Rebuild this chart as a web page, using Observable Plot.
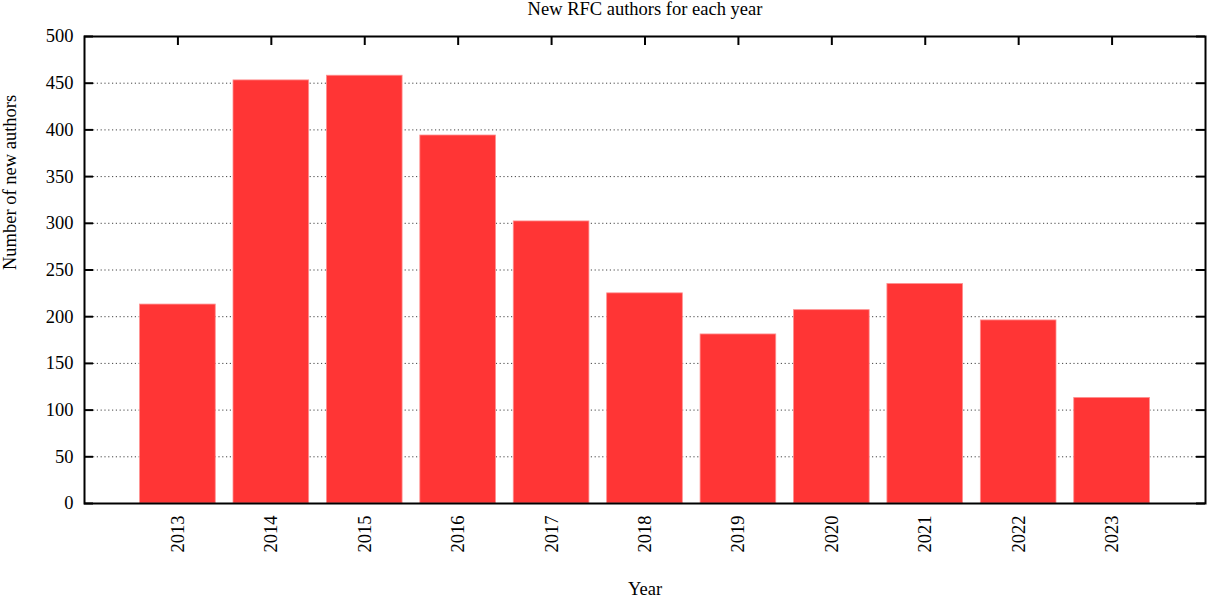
<!DOCTYPE html>
<html>
<head>
<meta charset="utf-8">
<script src="https://cdn.jsdelivr.net/npm/d3@7"></script>
<script src="https://cdn.jsdelivr.net/npm/@observablehq/plot@0.6"></script>
<style>
  html, body { margin: 0; padding: 0; background: #fff; }
</style>
</head>
<body>
<div id="chart"></div>
<script>
const years = [2013, 2014, 2015, 2016, 2017, 2018, 2019, 2020, 2021, 2022, 2023];
const newAuthors = [213, 453, 458, 394, 302, 225, 181, 207, 235, 196, 113];
const yTicks = [0, 50, 100, 150, 200, 250, 300, 350, 400, 450, 500];
const gridValues = [50, 100, 150, 200, 250, 300, 350, 400, 450];
const titleText = "New RFC authors for each year";
const xLabel = "Year";
const yLabel = "Number of new authors";

const data = years.map((year, i) => ({year, value: newAuthors[i]}));

const W = 1208, H = 597;
const mL = 84, mR = 3, mT = 36, mB = 94;
const innerW = W - mL - mR, innerH = H - mT - mB;
const tick = 9;

const chart = Plot.plot({
  width: W,
  height: H,
  marginLeft: mL,
  marginRight: mR,
  marginTop: mT,
  marginBottom: mB,
  style: {fontFamily: "'Liberation Serif', 'DejaVu Serif', serif", fontSize: "18.5px", color: "#000", background: "#fff"},
  x: {domain: [2012, 2024], axis: null},
  y: {domain: [0, 500], axis: null},
  marks: [
    Plot.ruleY(gridValues, {y: d => d, insetLeft: tick, insetRight: tick, stroke: "#444", strokeWidth: 1, strokeDasharray: "1.2,2.6"}),
    Plot.rectY(data, {x1: d => d.year - 0.405, x2: d => d.year + 0.405, y1: 0, y2: "value", fill: "#ff3535", stroke: "#ff9090", strokeWidth: 0.8}),
    // inward ticks: left & right
    Plot.tickY(yTicks, {y: d => d, insetRight: innerW - tick, stroke: "#000", strokeWidth: 2}),
    Plot.tickY(yTicks, {y: d => d, insetLeft: innerW - tick, stroke: "#000", strokeWidth: 2}),
    // inward ticks: top
    Plot.tickX(years, {x: d => d, insetBottom: innerH - tick, stroke: "#000", strokeWidth: 2}),
    Plot.frame({stroke: "#000", strokeWidth: 2}),
    // y tick labels
    Plot.text(yTicks, {y: d => d, text: d => String(d), frameAnchor: "left", dx: -11, textAnchor: "end", lineAnchor: "middle", fill: "#000"}),
    // x tick labels rotated
    Plot.text(years, {x: d => d, text: d => String(d), frameAnchor: "bottom", dy: 12, rotate: -90, textAnchor: "end", lineAnchor: "middle", fill: "#000"}),
    // title
    Plot.text([titleText], {frameAnchor: "top", dy: -22, lineAnchor: "bottom", fill: "#000", fontSize: 18.5}),
    // x label
    Plot.text([xLabel], {frameAnchor: "bottom", dy: 91, lineAnchor: "bottom", fill: "#000"}),
    // y label
    Plot.text([yLabel], {frameAnchor: "left", dx: -69, rotate: -90, lineAnchor: "bottom", fill: "#000"})
  ]
});

document.getElementById("chart").appendChild(chart);
</script>
</body>
</html>
